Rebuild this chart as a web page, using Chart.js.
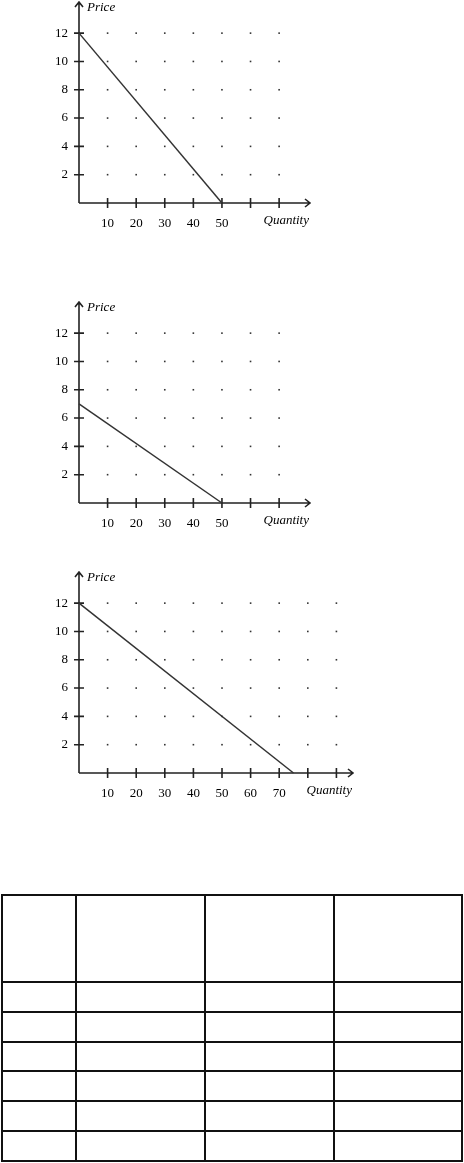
<!DOCTYPE html>
<html>
<head>
<meta charset="utf-8">
<script src="https://cdn.jsdelivr.net/npm/chart.js@4.4.0/dist/chart.umd.min.js"></script>
<style>
body { margin: 0; background: #fff; width: 464px; height: 1163px; position: relative; overflow: hidden; }
.graf { position: absolute; left: 0; width: 464px; height: 245px; }
#tabela { position: absolute; left: 1px; top: 894px; width: 460px; height: 268px; border-collapse: collapse; table-layout: fixed; }
#tabela td { border: 2px solid #111; padding: 0; }
</style>
</head>
<body>
<div class="graf" style="top:-2.5px"><canvas id="graf1"></canvas></div>
<div class="graf" style="top:298px"><canvas id="graf2"></canvas></div>
<div class="graf" style="top:568px"><canvas id="graf3"></canvas></div>

<table id="tabela">
  <colgroup><col style="width:74px"><col style="width:129px"><col style="width:129px"><col style="width:128px"></colgroup>
  <tr style="height:87px"><td></td><td></td><td></td><td></td></tr>
  <tr><td></td><td></td><td></td><td></td></tr>
  <tr><td></td><td></td><td></td><td></td></tr>
  <tr><td></td><td></td><td></td><td></td></tr>
  <tr><td></td><td></td><td></td><td></td></tr>
  <tr><td></td><td></td><td></td><td></td></tr>
  <tr><td></td><td></td><td></td><td></td></tr>
</table>

<script>
// valores
const precos = [2, 4, 6, 8, 10, 12];
const qtdTicksAB = [10, 20, 30, 40, 50, 60, 70];
const qtdRotulosAB = [10, 20, 30, 40, 50];
const qtdTicksC = [10, 20, 30, 40, 50, 60, 70, 80, 90];
const qtdRotulosC = [10, 20, 30, 40, 50, 60, 70];

const demanda1Qtd = [0, 50];
const demanda1Preco = [12, 0];
const demanda2Qtd = [0, 50];
const demanda2Preco = [7, 0];
const demanda3Qtd = [0, 75];
const demanda3Preco = [12, 0];

const fonteSerif = '"Liberation Serif", "DejaVu Serif", serif';

// eixos com setas, marcas cruzadas e pontos da grade
const eixosPlugin = {
    id: 'eixos',
    beforeDatasetsDraw(chart, args, opts) {
        const ctx = chart.ctx;
        const x = chart.scales.x, y = chart.scales.y;
        const x0 = x.getPixelForValue(0), y0 = y.getPixelForValue(0);
        const xFim = x.right, yFim = y.top;
        ctx.save();

        ctx.fillStyle = '#333';
        x.ticks.forEach(function (tx) {
            y.ticks.forEach(function (ty) {
                const px = x.getPixelForValue(tx.value), py = y.getPixelForValue(ty.value);
                ctx.fillRect(px - 0.8, py - 0.8, 1.6, 1.6);
            });
        });

        ctx.strokeStyle = '#222';
        ctx.lineWidth = 1.6;
        ctx.beginPath();
        ctx.moveTo(x0, y0); ctx.lineTo(x0, yFim);
        ctx.moveTo(x0, y0); ctx.lineTo(xFim, y0);
        ctx.moveTo(x0 - 4, yFim + 5); ctx.lineTo(x0, yFim); ctx.lineTo(x0 + 4, yFim + 5);
        ctx.moveTo(xFim - 5, y0 - 4); ctx.lineTo(xFim, y0); ctx.lineTo(xFim - 5, y0 + 4);
        y.ticks.forEach(function (t) {
            const py = y.getPixelForValue(t.value);
            ctx.moveTo(x0 - 5, py); ctx.lineTo(x0 + 5, py);
        });
        x.ticks.forEach(function (t) {
            const px = x.getPixelForValue(t.value);
            ctx.moveTo(px, y0 - 5); ctx.lineTo(px, y0 + 5);
        });
        ctx.stroke();

        ctx.fillStyle = '#000';
        ctx.font = 'italic 13px ' + fonteSerif;
        ctx.textBaseline = 'middle';
        ctx.textAlign = 'left';
        ctx.fillText(opts.tituloY, x0 + 8, yFim + 5.5);
        ctx.textAlign = 'right';
        ctx.fillText(opts.tituloX, xFim - 1, y0 + 17.5);
        ctx.restore();
    }
};

function graficoDemanda(id, qtd, preco, qtdTicks, qtdRotulos, xMax, direita) {
    var pontos = qtd.map((q, i) => ({ x: q, y: preco[i] }));
    var ctx = document.getElementById(id).getContext('2d');
    var chart = new Chart(ctx, {
        type: 'scatter',
        data: {
            datasets: [{
                data: pontos,
                showLine: true,
                borderColor: '#333',
                borderWidth: 1.5,
                pointRadius: 0,
                clip: false
            }]
        },
        options: {
            responsive: true,
            maintainAspectRatio: false,
            animation: false,
            layout: { padding: { left: 0, top: 4, right: 464 - direita, bottom: 0 } },
            plugins: {
                legend: { display: false },
                tooltip: { enabled: false },
                eixos: { tituloY: 'Price', tituloX: 'Quantity' }
            },
            scales: {
                x: {
                    type: 'linear',
                    min: 0,
                    max: xMax,
                    grid: { display: false, drawTicks: false },
                    border: { display: false },
                    afterBuildTicks: s => { s.ticks = qtdTicks.map(v => ({ value: v })); },
                    afterFit: s => { s.height = 40; s.paddingLeft = 0; s.paddingRight = 0; },
                    ticks: {
                        padding: 13,
                        maxRotation: 0,
                        autoSkip: false,
                        color: '#000',
                        font: { family: fonteSerif, size: 13 },
                        callback: v => qtdRotulos.includes(v) ? String(v) : ''
                    }
                },
                y: {
                    type: 'linear',
                    min: 0,
                    max: 14.2,
                    grid: { display: false, drawTicks: false },
                    border: { display: false },
                    afterBuildTicks: s => { s.ticks = precos.map(v => ({ value: v })); },
                    afterFit: s => { s.width = 79; s.paddingTop = 0; s.paddingBottom = 0; },
                    ticks: {
                        padding: 11,
                        autoSkip: false,
                        color: '#000',
                        font: { family: fonteSerif, size: 13 },
                        callback: v => String(v)
                    }
                }
            }
        },
        plugins: [eixosPlugin]
    });
    return chart;
}

graficoDemanda('graf1', demanda1Qtd, demanda1Preco, qtdTicksAB, qtdRotulosAB, 80.8, 310);
graficoDemanda('graf2', demanda2Qtd, demanda2Preco, qtdTicksAB, qtdRotulosAB, 80.8, 310);
graficoDemanda('graf3', demanda3Qtd, demanda3Preco, qtdTicksC, qtdRotulosC, 95.8, 353);
</script>
</body>
</html>
